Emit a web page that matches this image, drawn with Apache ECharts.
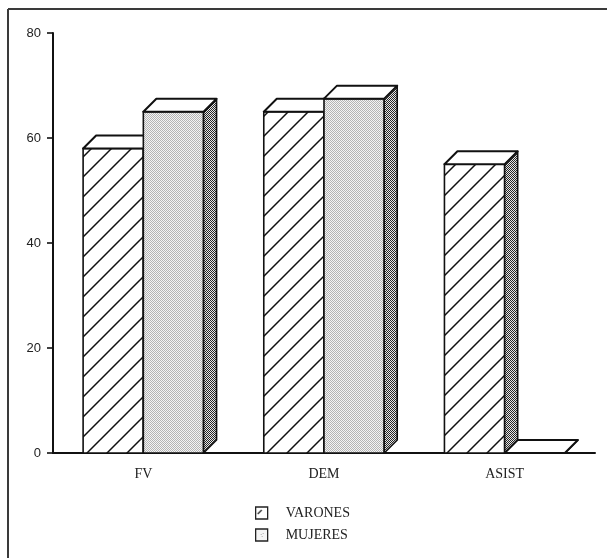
<!DOCTYPE html>
<html>
<head>
<meta charset="utf-8">
<script src="https://cdn.jsdelivr.net/npm/echarts@6/dist/echarts.min.js"></script>
<style>
  html, body { margin: 0; padding: 0; background: #fff; }
  #chart { width: 607px; height: 558px; }
</style>
</head>
<body>
<div id="chart"></div>
<script>
// Data
const categories = ['FV', 'DEM', 'ASIST'];
const varones = [58, 65, 55];
const mujeres = [65, 67.5, 0];
const seriesNames = ['VARONES', 'MUJERES'];

// Fill patterns drawn on small canvases
function makeTile(w, h, draw) {
  const c = document.createElement('canvas');
  c.width = w; c.height = h;
  const ctx = c.getContext('2d');
  draw(ctx, w, h);
  return { image: c, repeat: 'repeat' };
}
const hatch = makeTile(20, 20, (ctx, w, h) => {
  ctx.fillStyle = '#fff';
  ctx.fillRect(0, 0, w, h);
  ctx.strokeStyle = '#111';
  ctx.lineWidth = 1.5;
  ctx.beginPath();
  ctx.moveTo(-2, h + 2); ctx.lineTo(w + 2, -2);
  ctx.moveTo(-2, 2); ctx.lineTo(2, -2);
  ctx.moveTo(w - 2, h + 2); ctx.lineTo(w + 2, h - 2);
  ctx.stroke();
});
const dotsLight = makeTile(2, 2, (ctx) => {
  ctx.fillStyle = '#f4f4f4'; ctx.fillRect(0, 0, 2, 2);
  ctx.fillStyle = '#b4b4b4'; ctx.fillRect(0, 0, 1, 1); ctx.fillRect(1, 1, 1, 1);
});
const dotsDark = makeTile(2, 2, (ctx) => {
  ctx.fillStyle = '#e6e6e6'; ctx.fillRect(0, 0, 2, 2);
  ctx.fillStyle = '#262626'; ctx.fillRect(0, 0, 1, 1); ctx.fillRect(1, 1, 1, 1);
});
const iconVarones = makeTile(12, 12, (ctx) => {
  ctx.fillStyle = '#fff'; ctx.fillRect(0, 0, 12, 12);
  ctx.strokeStyle = '#222'; ctx.lineWidth = 1.2;
  ctx.beginPath(); ctx.moveTo(2, 7); ctx.lineTo(6, 3); ctx.stroke();
});
const iconMujeres = makeTile(12, 12, (ctx) => {
  ctx.fillStyle = '#f4f4f4'; ctx.fillRect(0, 0, 12, 12);
  ctx.fillStyle = '#aaa';
  ctx.fillRect(5, 5, 1, 1); ctx.fillRect(7, 4, 1, 1); ctx.fillRect(6, 7, 1, 1);
});

const frontFills = [hatch, dotsLight];
const DX = 13, DY = 13;   // depth offset of the 3D boxes
const EDGE = '#111';

function renderBox(params, api) {
  const idx = api.value(0);
  const val = api.value(1);
  const band = api.size([1, 0])[0];
  const w = band / 3;
  const base = api.coord([idx, 0]);
  const top = api.coord([idx, val]);
  const x0 = base[0] + (params.seriesIndex === 0 ? -w : 0);
  const x1 = x0 + w;
  const yb = base[1], yt = top[1];
  const lw = 1.6;
  return {
    type: 'group',
    children: [
      {
        type: 'rect',
        shape: { x: x0, y: yt, width: w, height: yb - yt },
        style: { fill: frontFills[params.seriesIndex], stroke: EDGE, lineWidth: lw }
      },
      {
        type: 'polygon',
        shape: { points: [[x1, yb], [x1 + DX, yb - DY], [x1 + DX, yt - DY], [x1, yt]] },
        style: { fill: dotsDark, stroke: EDGE, lineWidth: lw, lineJoin: 'round' }
      },
      {
        type: 'polygon',
        shape: { points: [[x0, yt], [x0 + DX, yt - DY], [x1 + DX, yt - DY], [x1, yt]] },
        style: { fill: '#fff', stroke: EDGE, lineWidth: lw + 0.4, lineJoin: 'round' }
      }
    ]
  };
}

const chart = echarts.init(document.getElementById('chart'), null, { renderer: 'canvas' });
chart.setOption({
  backgroundColor: '#fff',
  animation: false,
  grid: { left: 53, right: 12, top: 33, bottom: 105 },
  xAxis: {
    type: 'category',
    data: categories,
    axisLine: { lineStyle: { color: '#111', width: 2 } },
    axisTick: { show: false },
    axisLabel: { margin: 14, fontFamily: 'Liberation Serif', fontSize: 14, color: '#222' }
  },
  yAxis: {
    type: 'value',
    min: 0, max: 80, interval: 20,
    axisLine: { show: true, lineStyle: { color: '#111', width: 2 } },
    axisTick: { show: true, length: 6, lineStyle: { color: '#111', width: 1.6 } },
    splitLine: { show: false },
    axisLabel: { margin: 12, fontFamily: 'Liberation Sans', fontSize: 13, color: '#222' }
  },
  legend: {
    orient: 'vertical',
    left: 255, top: 506,
    padding: 0,
    icon: 'rect',
    itemWidth: 12, itemHeight: 12, itemGap: 8,
    textStyle: { fontFamily: 'Liberation Serif', fontSize: 14, color: '#222', padding: [0, 0, 0, 13] },
    data: [
      { name: seriesNames[0], itemStyle: { color: iconVarones, borderColor: '#222', borderWidth: 1.3 } },
      { name: seriesNames[1], itemStyle: { color: iconMujeres, borderColor: '#222', borderWidth: 1.3 } }
    ]
  },
  graphic: [
    { type: 'line', shape: { x1: 8, y1: 9, x2: 607, y2: 9 }, style: { stroke: '#3a3a3a', lineWidth: 2 } },
    { type: 'line', shape: { x1: 8, y1: 9, x2: 8, y2: 558 }, style: { stroke: '#3a3a3a', lineWidth: 2 } }
  ],
  series: [
    {
      name: seriesNames[0], type: 'custom', renderItem: renderBox,
      itemStyle: { color: '#fff' },
      encode: { x: 0, y: 1 },
      data: categories.map((c, i) => [i, varones[i]])
    },
    {
      name: seriesNames[1], type: 'custom', renderItem: renderBox,
      itemStyle: { color: '#ccc' },
      encode: { x: 0, y: 1 },
      data: categories.map((c, i) => [i, mujeres[i]])
    }
  ]
});
</script>
</body>
</html>
